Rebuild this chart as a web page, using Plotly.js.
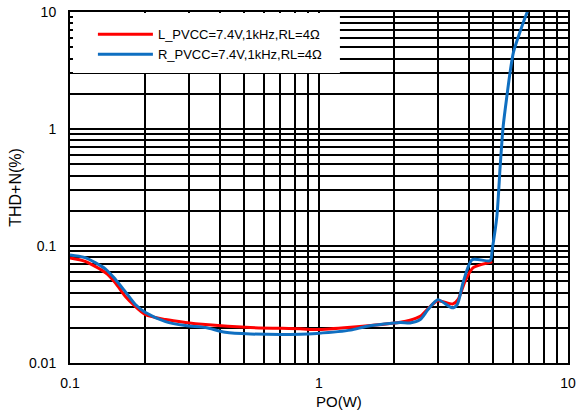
<!DOCTYPE html>
<html>
<head>
<meta charset="utf-8">
<script src="https://cdn.plot.ly/plotly-3.0.1.min.js"></script>
<style>html,body{margin:0;padding:0;background:#fff;}#chart{width:576px;height:415px;}</style>
</head>
<body>
<div id="chart"></div>
<script>
// Series names
const nameL = "L_PVCC=7.4V,1kHz,RL=4Ω";
const nameR = "R_PVCC=7.4V,1kHz,RL=4Ω";

// Left channel: output power (W) and THD+N (%)
const xL = [0.1, 0.115, 0.139, 0.152, 0.167, 0.183, 0.201, 0.242, 0.291, 0.35, 0.53, 0.84, 0.98, 1.34, 2.12, 2.32, 2.55, 2.8, 3.0, 3.45, 3.62, 3.86, 4.16, 4.87, 4.96];
const yL = [0.079, 0.074, 0.059, 0.0486, 0.037, 0.0304, 0.0259, 0.0235, 0.0222, 0.0213, 0.0201, 0.0196, 0.0193, 0.0202, 0.0223, 0.0232, 0.0251, 0.0305, 0.034, 0.032, 0.035, 0.05, 0.0653, 0.0725, 0.0735];

// Right channel: output power (W) and THD+N (%)
const xR = [0.1, 0.115, 0.139, 0.152, 0.167, 0.183, 0.201, 0.242, 0.291, 0.35, 0.42, 0.53, 0.84, 0.98, 1.34, 1.56, 2.12, 2.32, 2.55, 2.74, 3.0, 3.42, 3.59, 3.79, 4.12, 4.87, 4.96, 5.18, 5.34, 5.49, 5.68, 5.85, 6.03, 6.32, 6.83, 7.0];
const yR = [0.0838, 0.0795, 0.0635, 0.052, 0.0405, 0.0316, 0.027, 0.0226, 0.0209, 0.0201, 0.0183, 0.0177, 0.0176, 0.0179, 0.0191, 0.0206, 0.0222, 0.022, 0.0235, 0.0286, 0.0348, 0.0296, 0.0316, 0.0486, 0.0764, 0.075, 0.093, 0.179, 0.478, 1.05, 1.89, 3.02, 4.47, 6.15, 9.75, 11];

// Axis tick labels and titles
const xTicks = [0.1, 1, 10];
const xTickText = ["0.1", "1", "10"];
const yTicks = [0.01, 0.1, 1, 10];
const yTickText = ["0.01", "0.1", "1", "10"];
const xTitle = "PO(W)";
const yTitle = "THD+N(%)";

function minorVals(lo, hi) {
  const v = [];
  for (let d = lo; d < hi; d++) {
    for (let k = 2; k <= 9; k++) v.push(k * Math.pow(10, d));
  }
  return v;
}

const font = {family: "Liberation Sans, Arial, sans-serif", color: "#000"};

const traces = [
  {x: xL, y: yL, name: nameL, mode: "lines", type: "scatter",
   line: {color: "#ff0000", width: 3, shape: "spline", smoothing: 0.7}},
  {x: xR, y: yR, name: nameR, mode: "lines", type: "scatter",
   line: {color: "#0f6fc1", width: 3, shape: "spline", smoothing: 0.7}}
];

const gridStyle = {showgrid: true, gridcolor: "#000", gridwidth: 2};

const layout = {
  width: 576, height: 415,
  margin: {l: 70, r: 8, t: 12, b: 52},
  paper_bgcolor: "#fff", plot_bgcolor: "#fff",
  font: Object.assign({size: 14}, font),
  showlegend: true,
  legend: {x: 0.046, y: 0.979, xanchor: "left", yanchor: "top",
           bgcolor: "rgba(0,0,0,0)", borderwidth: 0, itemwidth: 55,
           font: Object.assign({size: 13}, font)},
  xaxis: Object.assign({
    type: "log", range: [-1, 1],
    tickmode: "array", tickvals: xTicks, ticktext: xTickText,
    ticks: "", showline: true, mirror: true, linecolor: "#000", linewidth: 2,
    zeroline: false, ticklabelstandoff: 6,
    tickfont: Object.assign({size: 14}, font),
    minor: {tickmode: "array", tickvals: minorVals(-1, 1), ticks: "", showgrid: true, gridcolor: "#000", gridwidth: 2}
  }, gridStyle),
  yaxis: Object.assign({
    type: "log", range: [-2, 1],
    tickmode: "array", tickvals: yTicks, ticktext: yTickText,
    ticks: "", showline: true, mirror: true, linecolor: "#000", linewidth: 2,
    zeroline: false, ticklabelstandoff: 9,
    tickfont: Object.assign({size: 14}, font),
    title: {text: yTitle, font: Object.assign({size: 16}, font), standoff: 3},
    minor: {tickmode: "array", tickvals: minorVals(-2, 1), ticks: "", showgrid: true, gridcolor: "#000", gridwidth: 2}
  }, gridStyle),
  annotations: [
    {text: xTitle, xref: "paper", yref: "paper", x: 0.54, y: -0.11, xanchor: "center", yanchor: "middle",
     showarrow: false, font: Object.assign({size: 15}, font)}
  ],
  shapes: [
    {type: "rect", xref: "paper", yref: "paper", x0: 0.006, x1: 0.542, y0: 0.826, y1: 0.997,
     fillcolor: "#fff", line: {width: 0}, layer: "above"}
  ]
};

Plotly.newPlot("chart", traces, layout, {displayModeBar: false, staticPlot: true});
</script>
</body>
</html>
